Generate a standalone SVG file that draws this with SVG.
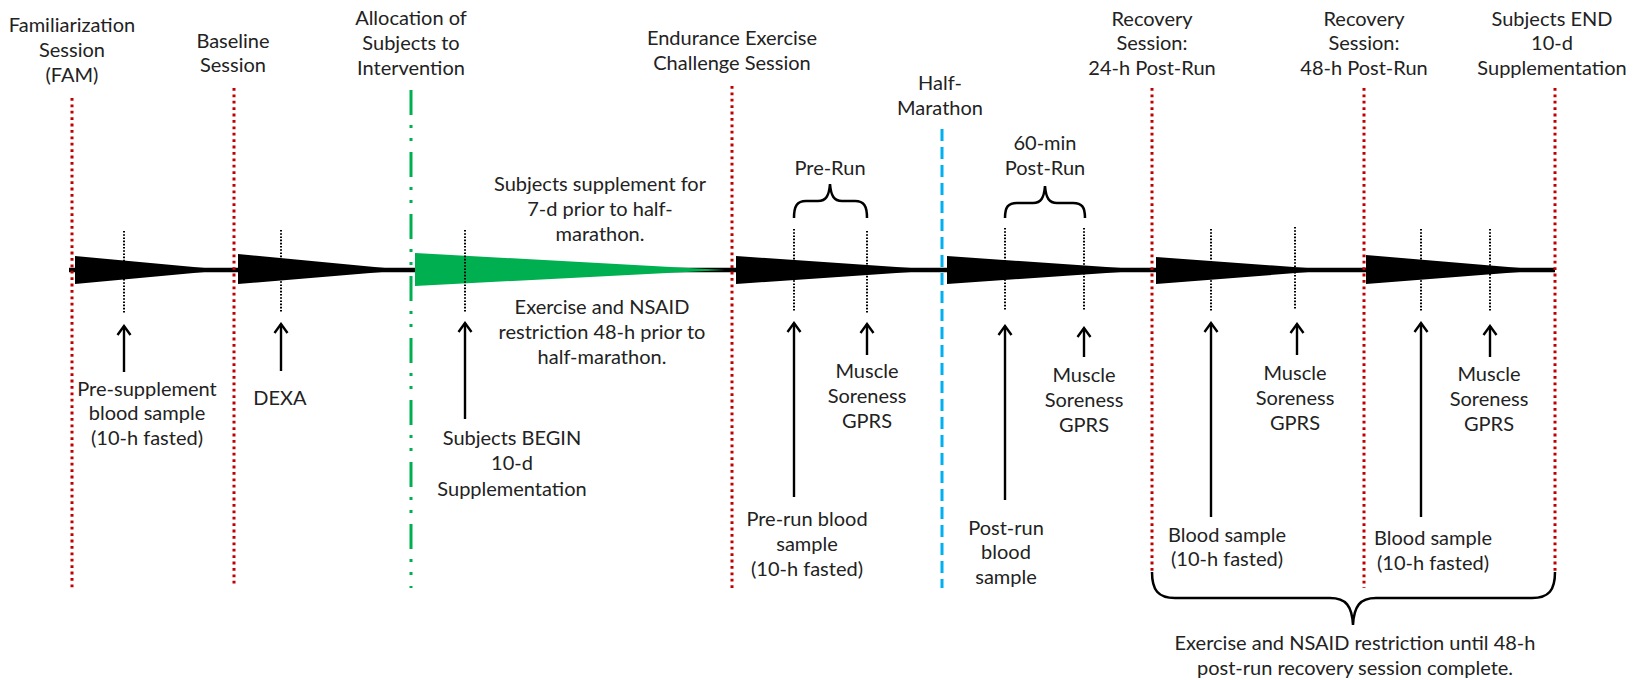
<svg xmlns="http://www.w3.org/2000/svg" width="1640" height="680" viewBox="0 0 1640 680">
<style>
text{font-family:Lato,"Liberation Sans",sans-serif;font-size:20px;fill:#222;text-anchor:middle}
.red{stroke:#C00000;stroke-width:3;stroke-dasharray:2.8 3.6;fill:none}
.tick{stroke:#000;stroke-width:2;stroke-dasharray:1.6 1.6;fill:none}
.arr{stroke:#000;stroke-width:2.4;fill:none;marker-end:url(#ah)}
.brace{stroke:#000;stroke-width:2.5;fill:none}
.wedge{fill:#000}
</style>
<defs>
<marker id="ah" viewBox="-12 -8 14 16" refX="0" refY="0" markerWidth="14" markerHeight="16" markerUnits="userSpaceOnUse" orient="auto">
<path d="M-9,-6.5 L0,0 L-9,6.5" fill="none" stroke="#000" stroke-width="2.4"/>
</marker>
</defs>

<g id="timeline">
<line x1="69" y1="270" x2="1555" y2="270" stroke="#000" stroke-width="4.5"/>
<polygon class="wedge" points="75,256 75,284 226,270"/>
<polygon class="wedge" points="238,254 238,284 406,270"/>
<polygon points="415,253 415,286 725,270" fill="#00B050"/>
<polygon class="wedge" points="736,256 736,284 940,270"/>
<polygon class="wedge" points="947,256 947,284 1150,270"/>
<polygon class="wedge" points="1156,257 1156,284 1334,270"/>
<polygon class="wedge" points="1366,255 1366,284 1545,270"/>
</g>

<g id="session-lines">
<line class="red" x1="72" y1="98" x2="72" y2="588"/>
<line class="red" x1="234" y1="88" x2="234" y2="586"/>
<line x1="411" y1="90" x2="411" y2="588" stroke="#00B050" stroke-width="3" stroke-dasharray="25 10 3 10 3 11"/>
<line class="red" x1="732" y1="86" x2="732" y2="588"/>
<line x1="942" y1="129" x2="942" y2="588" stroke="#00B0F0" stroke-width="3" stroke-dasharray="12 6"/>
<line class="red" x1="1152" y1="88" x2="1152" y2="573"/>
<line class="red" x1="1364" y1="88" x2="1364" y2="588"/>
<line class="red" x1="1555" y1="88" x2="1555" y2="573"/>
</g>

<g id="ticks">
<line class="tick" x1="124" y1="231" x2="124" y2="313"/>
<line class="tick" x1="281" y1="230" x2="281" y2="312"/>
<line class="tick" x1="465" y1="230" x2="465" y2="312"/>
<line class="tick" x1="794" y1="229" x2="794" y2="311"/>
<line class="tick" x1="867" y1="231" x2="867" y2="313"/>
<line class="tick" x1="1005" y1="228" x2="1005" y2="310"/>
<line class="tick" x1="1084" y1="228" x2="1084" y2="310"/>
<line class="tick" x1="1211" y1="229" x2="1211" y2="311"/>
<line class="tick" x1="1295" y1="227" x2="1295" y2="309"/>
<line class="tick" x1="1421" y1="229" x2="1421" y2="311"/>
<line class="tick" x1="1490" y1="229" x2="1490" y2="311"/>
</g>

<g id="connectors">
<line class="arr" x1="124" y1="372" x2="124" y2="326"/>
<line class="arr" x1="281" y1="371" x2="281" y2="324"/>
<line class="arr" x1="465" y1="419" x2="465" y2="323"/>
<line class="arr" x1="794" y1="497" x2="794" y2="323"/>
<line class="arr" x1="867" y1="355" x2="867" y2="324"/>
<line class="arr" x1="1005" y1="500" x2="1005" y2="326"/>
<line class="arr" x1="1084" y1="357" x2="1084" y2="328"/>
<line class="arr" x1="1211" y1="517" x2="1211" y2="323"/>
<line class="arr" x1="1297" y1="355" x2="1297" y2="324"/>
<line class="arr" x1="1421" y1="517" x2="1421" y2="323"/>
<line class="arr" x1="1490" y1="357" x2="1490" y2="326"/>
</g>

<g id="braces">
<path class="brace" d="M794,218 C794,206 797,201 806,201 L818,201 C826,201 829,196 830,184 C831,196 834,201 842,201 L855,201 C864,201 867,206 867,218"/>
<path class="brace" d="M1005,218 C1005,207 1008,203 1017,203 L1033,203 C1041,203 1044,198 1045,186 C1046,198 1049,203 1057,203 L1073,203 C1082,203 1085,207 1085,218"/>
<path class="brace" d="M1152,572 C1152,590 1158,598 1175,598 L1330,598 C1346,598 1352,606 1353,625 C1354,606 1360,598 1376,598 L1532,598 C1549,598 1555,590 1555,572" stroke-width="3"/>
</g>

<g id="header-fam"><text x="72" y="32">Familiarization</text><text x="72" y="57">Session</text><text x="72" y="82">(FAM)</text></g>
<g id="header-baseline"><text x="233" y="48">Baseline</text><text x="233" y="72">Session</text></g>
<g id="header-allocation"><text x="411" y="25">Allocation of</text><text x="411" y="50">Subjects to</text><text x="411" y="75">Intervention</text></g>
<g id="header-endurance"><text x="732" y="45">Endurance Exercise</text><text x="732" y="70">Challenge Session</text></g>
<g id="header-half"><text x="940" y="90">Half-</text><text x="940" y="115">Marathon</text></g>
<g id="header-prerun"><text x="830" y="175">Pre-Run</text></g>
<g id="header-postrun"><text x="1045" y="150">60-min</text><text x="1045" y="175">Post-Run</text></g>
<g id="header-rec24"><text x="1152" y="26">Recovery</text><text x="1152" y="50">Session:</text><text x="1152" y="75">24-h Post-Run</text></g>
<g id="header-rec48"><text x="1364" y="26">Recovery</text><text x="1364" y="50">Session:</text><text x="1364" y="75">48-h Post-Run</text></g>
<g id="header-end"><text x="1552" y="26">Subjects END</text><text x="1552" y="50">10-d</text><text x="1552" y="75">Supplementation</text></g>

<g id="note-supplement"><text x="600" y="191">Subjects supplement for</text><text x="600" y="216">7-d prior to half-</text><text x="600" y="241">marathon.</text></g>
<g id="note-restriction"><text x="602" y="314">Exercise and NSAID</text><text x="602" y="339">restriction 48-h prior to</text><text x="602" y="364">half-marathon.</text></g>

<g id="label-presupp"><text x="147" y="396">Pre-supplement</text><text x="147" y="420">blood sample</text><text x="147" y="445">(10-h fasted)</text></g>
<g id="label-dexa"><text x="280" y="405">DEXA</text></g>
<g id="label-begin"><text x="512" y="445">Subjects BEGIN</text><text x="512" y="470">10-d</text><text x="512" y="496">Supplementation</text></g>
<g id="label-prerun-blood"><text x="807" y="526">Pre-run blood</text><text x="807" y="551">sample</text><text x="807" y="576">(10-h fasted)</text></g>
<g id="label-muscle1"><text x="867" y="378">Muscle</text><text x="867" y="403">Soreness</text><text x="867" y="428">GPRS</text></g>
<g id="label-postrun-blood"><text x="1006" y="535">Post-run</text><text x="1006" y="559">blood</text><text x="1006" y="584">sample</text></g>
<g id="label-muscle2"><text x="1084" y="382">Muscle</text><text x="1084" y="407">Soreness</text><text x="1084" y="432">GPRS</text></g>
<g id="label-blood24"><text x="1227" y="542">Blood sample</text><text x="1227" y="566">(10-h fasted)</text></g>
<g id="label-muscle3"><text x="1295" y="380">Muscle</text><text x="1295" y="405">Soreness</text><text x="1295" y="430">GPRS</text></g>
<g id="label-blood48"><text x="1433" y="545">Blood sample</text><text x="1433" y="570">(10-h fasted)</text></g>
<g id="label-muscle4"><text x="1489" y="381">Muscle</text><text x="1489" y="406">Soreness</text><text x="1489" y="431">GPRS</text></g>
<g id="note-recovery"><text x="1355" y="650">Exercise and NSAID restriction until  48-h</text><text x="1355" y="675">post-run recovery session complete.</text></g>
</svg>
